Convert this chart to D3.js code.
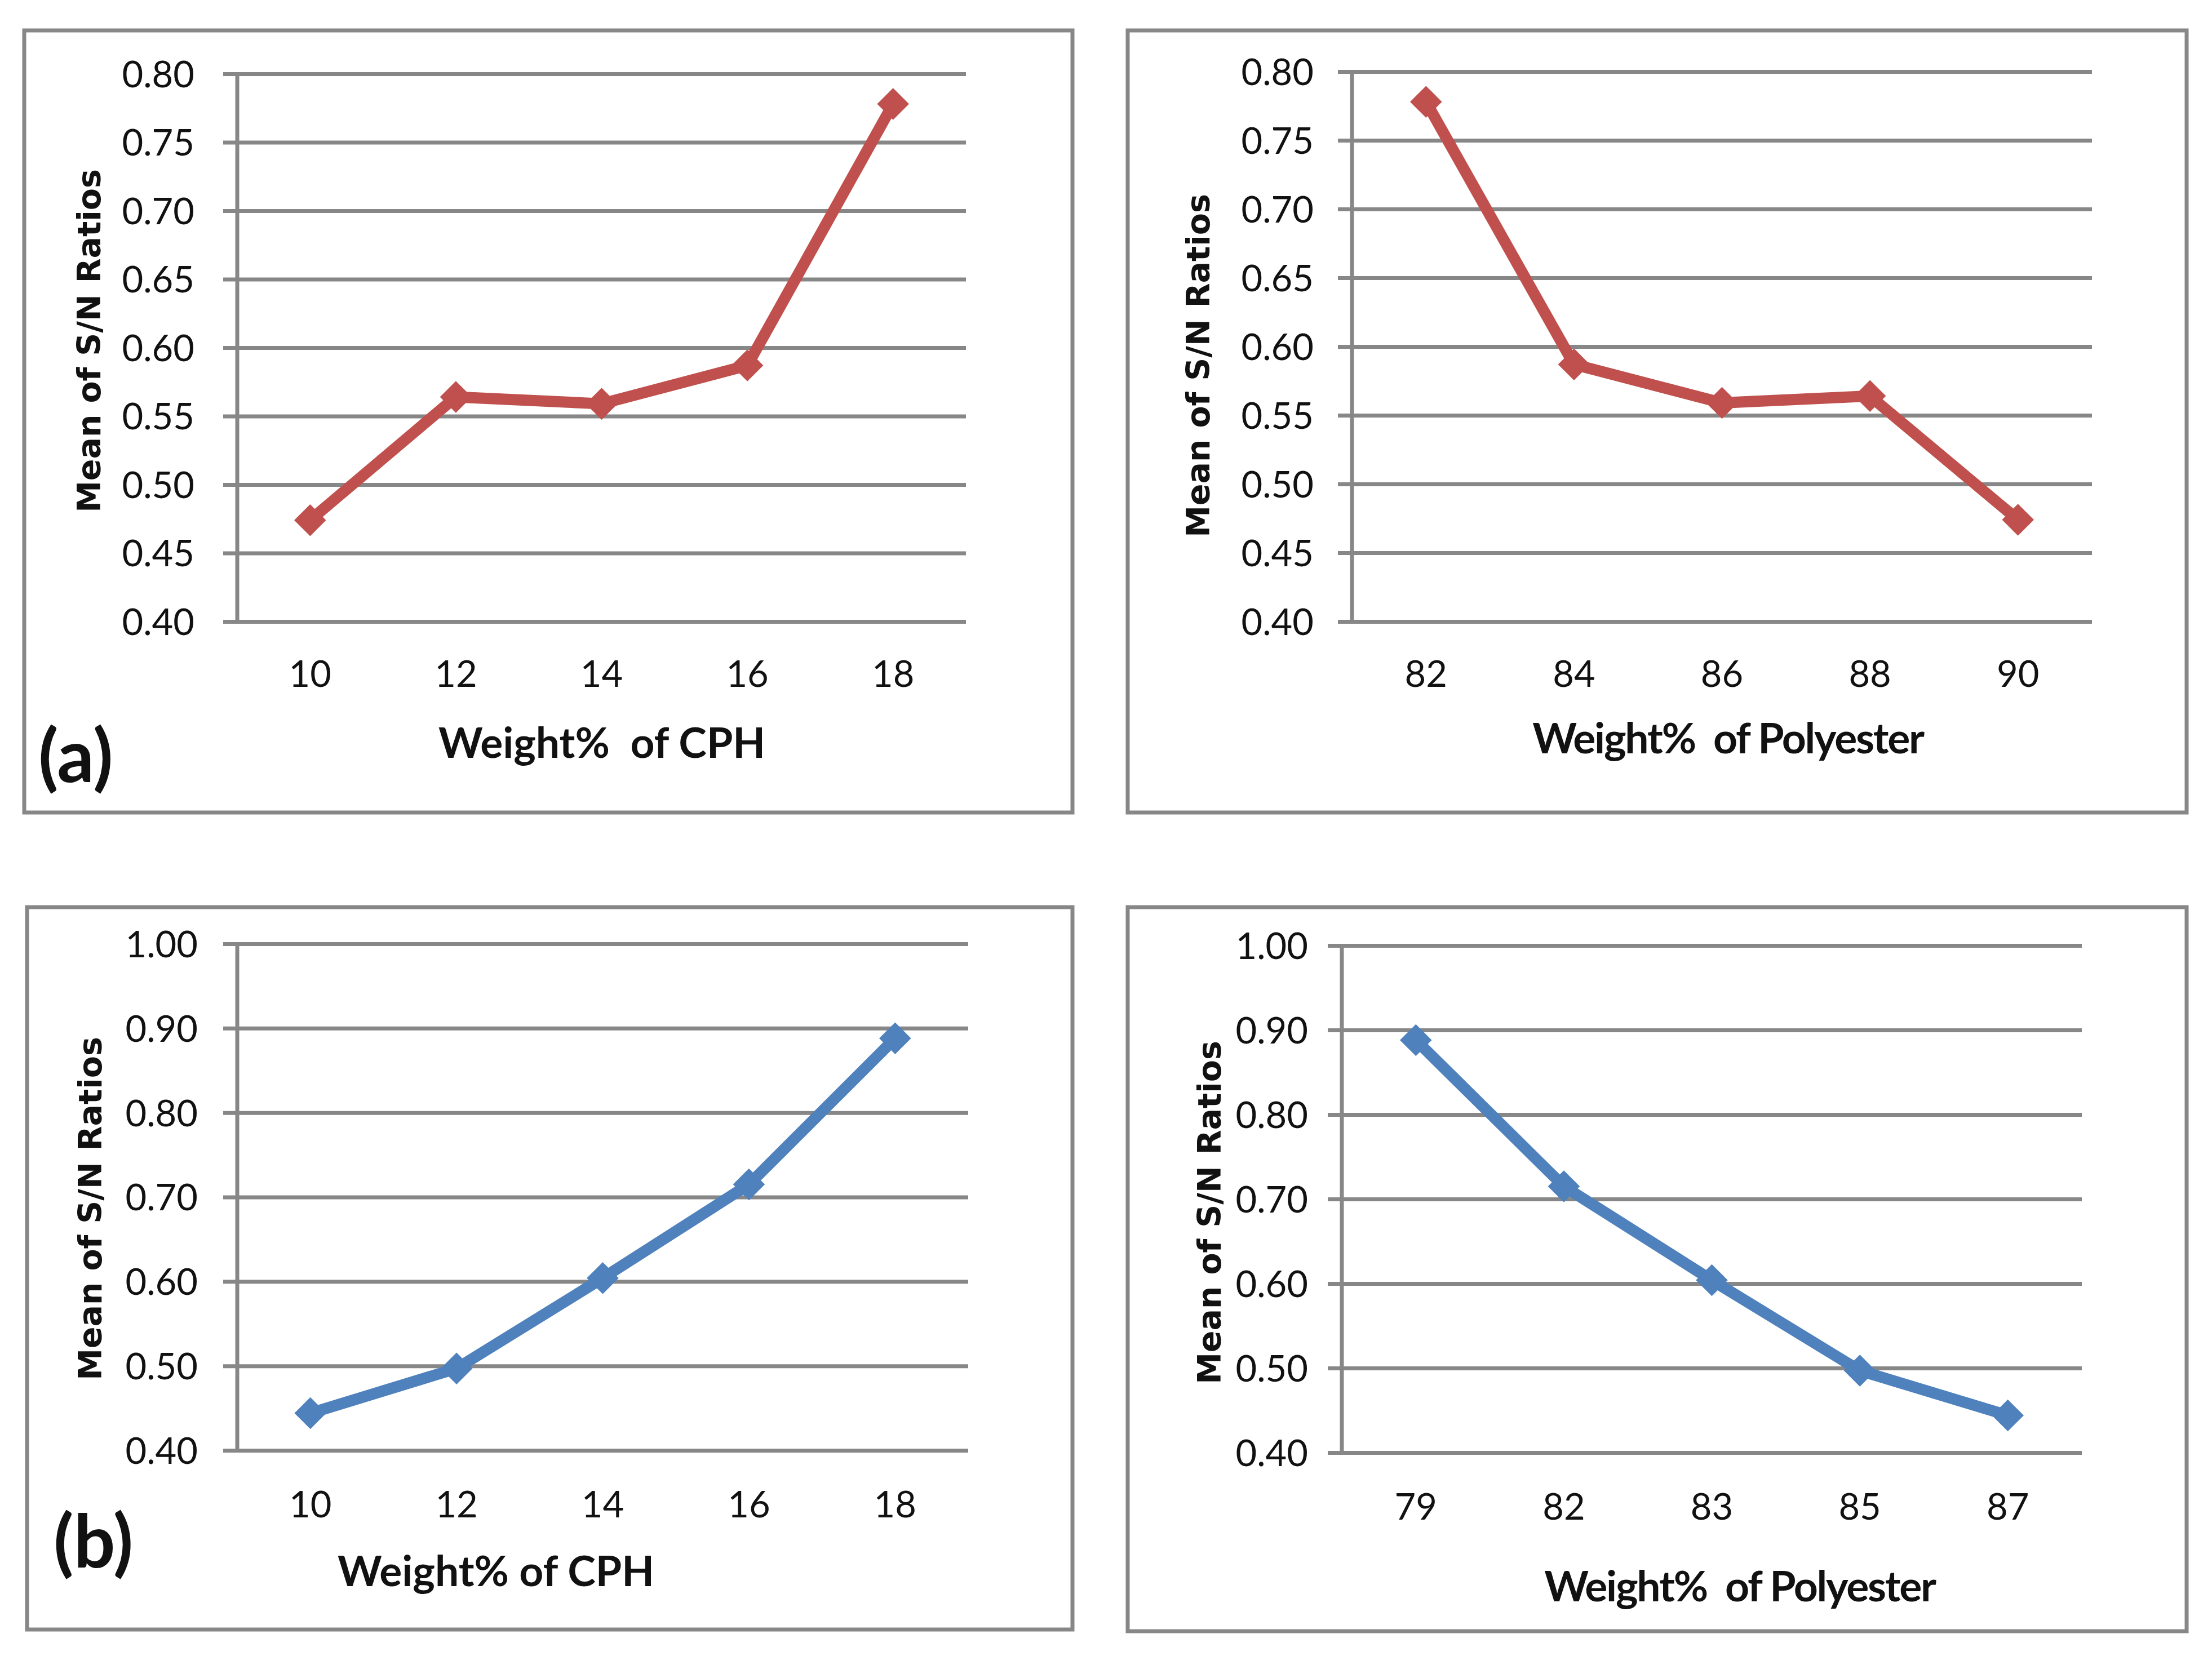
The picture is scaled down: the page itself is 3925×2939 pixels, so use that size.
<!DOCTYPE html>
<html>
<head>
<meta charset="utf-8">
<script src="https://cdn.jsdelivr.net/npm/d3@7"></script>
<style>
  body { margin: 0; background: #fff; }
</style>
</head>
<body>
<script>
// data
const cphLevels = ["10", "12", "14", "16", "18"];
const polyLevelsA = ["82", "84", "86", "88", "90"];
const polyLevelsB = ["79", "82", "83", "85", "87"];
const snA_cph = [0.474, 0.564, 0.559, 0.587, 0.778];
const snA_poly = [0.778, 0.587, 0.559, 0.564, 0.474];
const snB_cph = [0.444, 0.497, 0.604, 0.715, 0.888];
const snB_poly = [0.888, 0.715, 0.604, 0.497, 0.444];
const yTicksA = [0.40, 0.45, 0.50, 0.55, 0.60, 0.65, 0.70, 0.75, 0.80];
const yTicksB = [0.40, 0.50, 0.60, 0.70, 0.80, 0.90, 1.00];

const red = "#C0504D", blue = "#4F81BD", grid = "#878787";
let width = 3925, height = 2939;

let svg = d3.select("body").append("svg")
  .attr("width", width).attr("height", height);

// layout of the four panels
let panels = [
  {cats: cphLevels, vals: snA_cph, ticks: yTicksA, color: red,
   box: [43, 54, 1903, 1442], plot: {l: 421, r: 1714, t: 131, b: 1103},
   gap: 76, xPad: 70, yTitle: [178, 605], xTitle: [1068, 1345], xText: "Weight%  of CPH", ls: 0,
   tag: "(a)", tagPos: [68, 1388]},
  {cats: polyLevelsA, vals: snA_poly, ticks: yTicksA, color: red,
   box: [2001, 54, 3880, 1442], plot: {l: 2399, r: 3712, t: 127, b: 1103},
   gap: 68, xPad: 70, yTitle: [2146, 649], xTitle: [3066, 1337], xText: "Weight%  of Polyester", ls: -2.2},
  {cats: cphLevels, vals: snB_cph, ticks: yTicksB, color: blue,
   box: [48, 1610, 1903, 2892], plot: {l: 421, r: 1718, t: 1675, b: 2574},
   gap: 70, xPad: 73, yTitle: [180, 2145], xTitle: [880, 2815], xText: "Weight% of CPH", ls: 0,
   tag: "(b)", tagPos: [95, 2782]},
  {cats: polyLevelsB, vals: snB_poly, ticks: yTicksB, color: blue,
   box: [2001, 1610, 3880, 2895], plot: {l: 2381, r: 3694, t: 1678, b: 2578},
   gap: 60, xPad: 73, yTitle: [2166, 2152], xTitle: [3087, 2842], xText: "Weight%  of Polyester", ls: -2.2}
];

panels.forEach(p => {
  let [bx0, by0, bx1, by1] = p.box;
  svg.append("rect").attr("x", bx0).attr("y", by0)
    .attr("width", bx1 - bx0).attr("height", by1 - by0)
    .attr("fill", "#fff").attr("stroke", grid).attr("stroke-width", 7);

  let w = p.plot.r - p.plot.l;
  let x = d3.scaleBand().domain(p.cats).range([p.plot.l, p.plot.r]);
  let y = d3.scaleLinear().domain([p.ticks[0], p.ticks[p.ticks.length - 1]])
    .range([p.plot.b, p.plot.t]);

  // y axis + gridlines
  let gy = svg.append("g").attr("transform", `translate(${p.plot.l},0)`)
    .call(d3.axisLeft(y).tickValues(p.ticks).tickFormat(d3.format(".2f"))
      .tickSize(-w).tickPadding(p.gap));
  gy.select(".domain").remove();
  gy.selectAll(".tick line").attr("x1", -25).attr("stroke", grid).attr("stroke-width", 7);
  gy.selectAll(".tick text").attr("font-family", "Lato").attr("font-size", 65)
    .attr("fill", "#111").attr("dy", "0.36em");

  svg.append("line").attr("x1", p.plot.l).attr("x2", p.plot.l)
    .attr("y1", p.plot.t - 3).attr("y2", p.plot.b)
    .attr("stroke", grid).attr("stroke-width", 7);

  // x axis labels
  let gx = svg.append("g").attr("transform", `translate(0,${p.plot.b})`)
    .call(d3.axisBottom(x).tickSize(0).tickPadding(p.xPad));
  gx.select(".domain").remove();
  gx.selectAll(".tick text").attr("font-family", "Lato").attr("font-size", 65).attr("fill", "#111");

  // series line and diamonds
  let pts = p.cats.map((c, i) => [x(c) + x.bandwidth() / 2, y(p.vals[i])]);
  svg.append("path").datum(pts)
    .attr("d", d3.line())
    .attr("fill", "none").attr("stroke", p.color)
    .attr("stroke-width", 20).attr("stroke-linejoin", "round");
  svg.selectAll(null).data(pts).join("path")
    .attr("d", d3.symbol(d3.symbolSquare, 1600))
    .attr("transform", d => `translate(${d[0]},${d[1]}) rotate(45)`)
    .attr("fill", p.color);

  // titles
  svg.append("text")
    .attr("transform", `translate(${p.yTitle[0]},${p.yTitle[1]}) rotate(-90)`)
    .attr("text-anchor", "middle").attr("font-family", "DejaVu Sans")
    .attr("font-weight", "bold").attr("font-size", 57).attr("fill", "#111")
    .text("Mean of S/N Ratios");
  svg.append("text").attr("x", p.xTitle[0]).attr("y", p.xTitle[1])
    .attr("text-anchor", "middle").attr("font-family", "Lato")
    .attr("font-weight", "bold").attr("font-size", 75).attr("fill", "#111")
    .attr("letter-spacing", p.ls)
    .style("white-space", "pre")
    .text(p.xText);

  if (p.tag) {
    svg.append("text").attr("x", p.tagPos[0]).attr("y", p.tagPos[1])
      .attr("font-family", "Lato").attr("font-weight", "bold")
      .attr("font-size", 130).attr("fill", "#111").text(p.tag);
  }
});
</script>
</body>
</html>
